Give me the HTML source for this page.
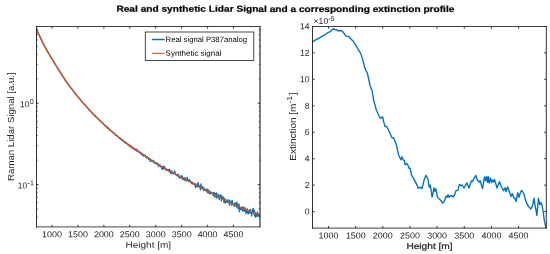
<!DOCTYPE html>
<html lang="en">
<head>
<meta charset="utf-8">
<title>Real and synthetic Lidar Signal and a corresponding extinction profile</title>
<style>
html,body{margin:0;padding:0;background:#ffffff;}
body{width:550px;height:254px;overflow:hidden;font-family:"Liberation Sans",sans-serif;}
svg{display:block;}
#fig{width:550px;height:254px;will-change:transform;background:#ffffff;}
svg text{font-family:"Liberation Sans",sans-serif;fill:#262626;}
.ttl{font-size:8.8px;font-weight:bold;fill:#000000;stroke:#000000;stroke-width:0.2px;}
.tk{font-size:8.6px;}
.sup{font-size:7.1px;}
.lb{font-size:8.6px;}
.lbr{font-size:8.3px;}
.lbb{stroke:#262626;stroke-width:0.22px;}
.lg{font-size:7.7px;fill:#000000;}
</style>
</head>
<body>
<div id="fig">
<svg width="550" height="254" viewBox="0 0 550 254">
<rect x="0" y="0" width="550" height="254" fill="#ffffff"/>
<text class="ttl" transform="translate(285.40,11.90) rotate(0.05)" text-anchor="middle" textLength="338" lengthAdjust="spacingAndGlyphs">Real and synthetic Lidar Signal and a corresponding extinction profile</text>
<g id="ax1">
<clipPath id="c1"><rect x="36.5" y="26.5" width="223.5" height="200.4"/></clipPath>
<g clip-path="url(#c1)" fill="none" stroke-linejoin="round" stroke-linecap="round">
<path d="M36.40,28.94 L36.76,29.62 L37.12,30.50 L37.48,31.37 L37.84,32.11 L38.20,32.99 L38.56,33.81 L38.92,34.48 L39.28,35.50 L39.64,36.26 L40.00,36.79 L40.36,37.60 L40.72,38.42 L41.08,39.11 L41.44,39.86 L41.80,40.51 L42.16,41.40 L42.52,42.09 L42.88,42.82 L43.24,43.38 L43.60,44.34 L43.96,44.92 L44.32,45.56 L44.68,46.43 L45.04,46.94 L45.40,47.50 L45.76,48.24 L46.12,48.75 L46.48,49.67 L46.84,50.20 L47.20,50.81 L47.56,51.59 L47.92,52.00 L48.28,52.80 L48.64,53.22 L49.00,53.95 L49.36,54.52 L49.72,55.34 L50.08,55.98 L50.44,56.41 L50.80,57.11 L51.16,57.63 L51.52,58.29 L51.88,58.78 L52.24,59.29 L52.60,59.88 L52.96,60.64 L53.32,61.38 L53.68,61.81 L54.04,62.33 L54.40,63.10 L54.76,63.55 L55.12,64.12 L55.48,64.71 L55.84,65.26 L56.20,65.82 L56.56,66.31 L56.92,67.04 L57.28,67.57 L57.64,68.25 L58.00,68.70 L58.36,69.14 L58.72,69.86 L59.08,70.58 L59.44,70.98 L59.80,71.51 L60.16,72.05 L60.52,72.63 L60.88,73.26 L61.24,73.76 L61.60,74.54 L61.96,74.96 L62.32,75.55 L62.68,76.22 L63.04,76.79 L63.40,77.21 L63.76,77.80 L64.12,78.39 L64.48,78.86 L64.84,79.27 L65.20,80.01 L65.56,80.56 L65.92,81.05 L66.28,81.47 L66.64,82.05 L67.00,82.53 L67.36,83.06 L67.72,83.70 L68.08,84.22 L68.44,84.64 L68.80,85.12 L69.16,85.62 L69.52,86.04 L69.88,86.52 L70.24,86.94 L70.60,87.46 L70.96,88.14 L71.32,88.48 L71.68,88.83 L72.04,89.28 L72.40,89.71 L72.76,90.28 L73.12,90.74 L73.48,91.03 L73.84,91.67 L74.20,92.02 L74.56,92.67 L74.92,93.00 L75.28,93.61 L75.64,93.85 L76.00,94.31 L76.36,94.82 L76.72,95.35 L77.08,95.75 L77.44,96.01 L77.80,96.60 L78.16,97.02 L78.52,97.42 L78.88,97.83 L79.24,98.53 L79.60,98.73 L79.96,99.11 L80.32,99.71 L80.68,100.09 L81.04,100.49 L81.40,101.02 L81.76,101.41 L82.12,101.82 L82.48,102.31 L82.84,102.65 L83.20,102.95 L83.56,103.40 L83.92,103.79 L84.28,104.30 L84.64,104.54 L85.00,104.85 L85.36,105.51 L85.72,105.72 L86.08,106.04 L86.44,106.76 L86.80,107.01 L87.16,107.58 L87.52,107.83 L87.88,108.14 L88.24,108.52 L88.60,109.01 L88.96,109.44 L89.32,109.75 L89.68,110.21 L90.04,110.41 L90.40,111.03 L90.76,111.13 L91.12,111.76 L91.48,112.28 L91.84,112.72 L92.20,113.20 L92.56,113.04 L92.92,113.80 L93.28,114.25 L93.64,114.58 L94.00,114.62 L94.36,115.22 L94.72,115.84 L95.08,115.61 L95.44,116.33 L95.80,116.81 L96.16,116.83 L96.52,117.43 L96.88,117.48 L97.24,117.88 L97.60,118.24 L97.96,118.79 L98.32,119.08 L98.68,119.64 L99.04,119.62 L99.40,120.13 L99.76,120.70 L100.12,120.97 L100.48,120.92 L100.84,121.68 L101.20,121.78 L101.56,122.31 L101.92,122.64 L102.28,123.18 L102.64,123.28 L103.00,123.17 L103.36,123.62 L103.72,124.43 L104.08,124.54 L104.44,125.20 L104.80,125.33 L105.16,125.42 L105.52,126.18 L105.88,126.06 L106.24,126.08 L106.60,127.42 L106.96,126.76 L107.32,127.72 L107.68,128.13 L108.04,128.25 L108.40,128.10 L108.76,129.12 L109.12,128.80 L109.48,129.14 L109.84,129.72 L110.20,130.35 L110.56,130.54 L110.92,131.00 L111.28,130.97 L111.64,131.36 L112.00,131.40 L112.36,131.94 L112.72,132.52 L113.08,132.57 L113.44,133.10 L113.80,133.10 L114.16,133.40 L114.52,133.90 L114.88,134.13 L115.24,134.67 L115.60,134.85 L115.96,135.64 L116.32,135.32 L116.68,135.62 L117.04,135.65 L117.40,136.29 L117.76,136.80 L118.12,136.63 L118.48,137.15 L118.84,137.70 L119.20,137.70 L119.56,137.86 L119.92,138.66 L120.28,138.65 L120.64,139.04 L121.00,139.60 L121.36,139.88 L121.72,139.63 L122.08,139.85 L122.44,140.42 L122.80,140.55 L123.16,140.18 L123.52,141.64 L123.88,141.44 L124.24,141.99 L124.60,141.54 L124.96,142.76 L125.32,142.31 L125.68,142.77 L126.04,142.53 L126.40,143.29 L126.76,143.53 L127.12,143.82 L127.48,144.34 L127.84,144.45 L128.20,145.09 L128.56,144.75 L128.92,144.79 L129.28,145.46 L129.64,146.00 L130.00,146.52 L130.36,146.60 L130.72,145.73 L131.08,146.92 L131.44,147.65 L131.80,147.29 L132.16,147.28 L132.52,147.90 L132.88,147.78 L133.24,148.55 L133.60,148.49 L133.96,149.39 L134.32,149.22 L134.68,148.89 L135.04,149.76 L135.40,150.16 L135.76,149.68 L136.12,149.99 L136.48,149.31 L136.84,151.12 L137.20,150.62 L137.56,150.09 L137.92,150.50 L138.28,151.51 L138.64,152.25 L139.00,152.05 L139.36,152.58 L139.72,152.00 L140.08,152.11 L140.44,153.51 L140.80,153.54 L141.16,153.50 L141.52,154.45 L141.88,153.48 L142.24,154.00 L142.60,155.03 L142.96,155.72 L143.32,154.95 L143.68,156.12 L144.04,155.09 L144.40,155.85 L144.76,155.81 L145.12,155.24 L145.48,156.54 L145.84,157.18 L146.20,156.79 L146.56,157.08 L146.92,158.19 L147.28,156.86 L147.64,156.95 L148.00,157.70 L148.36,157.62 L148.72,159.41 L149.08,159.02 L149.44,158.55 L149.80,158.94 L150.16,161.36 L150.52,159.43 L150.88,159.58 L151.24,160.50 L151.60,160.96 L151.96,160.94 L152.32,160.45 L152.68,160.52 L153.04,161.91 L153.40,161.73 L153.76,160.91 L154.12,163.03 L154.48,163.00 L154.84,162.55 L155.20,162.78 L155.56,163.35 L155.92,162.95 L156.28,162.72 L156.64,164.11 L157.00,163.10 L157.36,164.62 L157.72,163.54 L158.08,164.72 L158.44,164.92 L158.80,166.52 L159.16,164.68 L159.52,164.64 L159.88,165.41 L160.24,165.27 L160.60,165.88 L160.96,166.84 L161.32,167.31 L161.68,168.19 L162.04,166.59 L162.40,169.37 L162.76,169.08 L163.12,167.60 L163.48,166.17 L163.84,168.09 L164.20,168.41 L164.56,166.73 L164.92,168.80 L165.28,168.78 L165.64,168.50 L166.00,169.83 L166.36,170.33 L166.72,169.31 L167.08,170.08 L167.44,169.54 L167.80,169.62 L168.16,170.52 L168.52,171.08 L168.88,170.36 L169.24,169.15 L169.60,171.71 L169.96,170.03 L170.32,171.69 L170.68,173.30 L171.04,171.94 L171.40,171.10 L171.76,171.04 L172.12,173.54 L172.48,172.68 L172.84,173.37 L173.20,173.90 L173.56,173.22 L173.92,173.17 L174.28,172.77 L174.64,171.01 L175.00,172.62 L175.36,174.13 L175.72,174.22 L176.08,174.95 L176.44,174.64 L176.80,175.10 L177.16,175.88 L177.52,174.48 L177.88,175.24 L178.24,174.16 L178.60,176.83 L178.96,176.11 L179.32,176.74 L179.68,177.96 L180.04,177.70 L180.40,176.77 L180.76,177.79 L181.12,175.77 L181.48,177.82 L181.84,177.71 L182.20,176.12 L182.56,179.30 L182.92,177.41 L183.28,179.02 L183.64,178.07 L184.00,179.72 L184.36,180.24 L184.72,178.19 L185.08,177.64 L185.44,179.30 L185.80,180.52 L186.16,179.41 L186.52,179.34 L186.88,180.70 L187.24,177.38 L187.60,179.83 L187.96,179.23 L188.32,181.25 L188.68,180.30 L189.04,180.07 L189.40,181.09 L189.76,180.03 L190.12,181.84 L190.48,181.28 L190.84,181.81 L191.20,181.61 L191.56,183.65 L191.92,182.67 L192.28,183.58 L192.64,183.72 L193.00,182.42 L193.36,184.21 L193.72,184.14 L194.08,184.29 L194.44,183.64 L194.80,183.79 L195.16,185.42 L195.52,187.29 L195.88,183.87 L196.24,185.70 L196.60,184.80 L196.96,186.39 L197.32,186.16 L197.68,187.12 L198.04,182.57 L198.40,185.46 L198.76,185.16 L199.12,186.45 L199.48,185.87 L199.84,186.16 L200.20,188.02 L200.56,189.76 L200.92,183.94 L201.28,187.34 L201.64,188.33 L202.00,188.12 L202.36,187.86 L202.72,186.74 L203.08,187.46 L203.44,189.84 L203.80,190.50 L204.16,189.40 L204.52,188.35 L204.88,189.78 L205.24,189.53 L205.60,190.77 L205.96,190.39 L206.32,189.58 L206.68,190.87 L207.04,189.20 L207.40,192.12 L207.76,192.82 L208.12,189.75 L208.48,192.16 L208.84,190.38 L209.20,193.45 L209.56,193.41 L209.92,192.01 L210.28,193.93 L210.64,192.10 L211.00,191.99 L211.36,192.28 L211.72,193.08 L212.08,193.00 L212.44,193.88 L212.80,192.95 L213.16,195.15 L213.52,195.72 L213.88,193.68 L214.24,192.49 L214.60,195.86 L214.96,196.67 L215.32,194.92 L215.68,193.42 L216.04,195.94 L216.40,198.03 L216.76,193.06 L217.12,196.83 L217.48,195.80 L217.84,195.16 L218.20,197.43 L218.56,194.84 L218.92,197.49 L219.28,199.27 L219.64,197.68 L220.00,196.22 L220.36,194.98 L220.72,195.94 L221.08,195.23 L221.44,200.89 L221.80,198.13 L222.16,197.04 L222.52,196.81 L222.88,197.36 L223.24,198.73 L223.60,197.37 L223.96,202.39 L224.32,198.61 L224.68,198.73 L225.04,200.71 L225.40,202.79 L225.76,202.77 L226.12,199.94 L226.48,201.36 L226.84,201.37 L227.20,202.19 L227.56,201.91 L227.92,200.05 L228.28,199.69 L228.64,202.32 L229.00,200.16 L229.36,204.72 L229.72,202.62 L230.08,200.95 L230.44,202.34 L230.80,202.19 L231.16,203.02 L231.52,205.09 L231.88,201.04 L232.24,200.46 L232.60,204.54 L232.96,203.79 L233.32,204.57 L233.68,205.24 L234.04,204.28 L234.40,206.22 L234.76,203.31 L235.12,205.22 L235.48,203.74 L235.84,203.35 L236.20,206.71 L236.56,206.79 L236.92,202.30 L237.28,203.97 L237.64,206.76 L238.00,208.37 L238.36,205.27 L238.72,206.33 L239.08,204.15 L239.44,211.74 L239.80,208.03 L240.16,208.99 L240.52,208.69 L240.88,209.37 L241.24,208.90 L241.60,207.22 L241.96,209.46 L242.32,208.32 L242.68,210.85 L243.04,207.02 L243.40,207.54 L243.76,210.05 L244.12,211.43 L244.48,209.33 L244.84,207.76 L245.20,209.09 L245.56,208.47 L245.92,213.43 L246.28,211.57 L246.64,212.46 L247.00,210.66 L247.36,209.06 L247.72,212.73 L248.08,213.87 L248.44,211.82 L248.80,210.71 L249.16,213.14 L249.52,210.28 L249.88,212.78 L250.24,209.85 L250.60,209.44 L250.96,212.81 L251.32,212.48 L251.68,215.94 L252.04,211.45 L252.40,212.24 L252.76,209.90 L253.12,208.47 L253.48,208.79 L253.84,213.76 L254.20,210.35 L254.56,215.48 L254.92,216.28 L255.28,212.70 L255.64,217.09 L256.00,214.10 L256.36,216.22 L256.72,213.38 L257.08,216.15 L257.44,212.06 L257.80,215.69 L258.16,213.41 L258.52,214.29 L258.88,216.14 L259.24,215.25 L259.60,214.83 L259.96,216.79 L260.32,217.10" stroke="#0072BD" stroke-width="1.4"/>
<path d="M36.40,28.80 L36.76,29.65 L37.12,30.50 L37.48,31.34 L37.84,32.17 L38.20,32.99 L38.56,33.81 L38.92,34.62 L39.28,35.42 L39.64,36.21 L40.00,36.84 L40.36,37.61 L40.72,38.38 L41.08,39.14 L41.44,39.88 L41.80,40.62 L42.16,41.36 L42.52,42.08 L42.88,42.80 L43.24,43.51 L43.60,44.21 L43.96,44.90 L44.32,45.59 L44.68,46.27 L45.04,46.95 L45.40,47.62 L45.76,48.28 L46.12,48.93 L46.48,49.58 L46.84,50.23 L47.20,50.87 L47.56,51.50 L47.92,52.13 L48.28,52.76 L48.64,53.38 L49.00,54.00 L49.36,54.61 L49.72,55.23 L50.08,55.83 L50.44,56.44 L50.80,57.04 L51.16,57.64 L51.52,58.24 L51.88,58.84 L52.24,59.43 L52.60,60.02 L52.96,60.61 L53.32,61.20 L53.68,61.78 L54.04,62.37 L54.40,62.95 L54.76,63.53 L55.12,64.11 L55.48,64.69 L55.84,65.27 L56.20,65.85 L56.56,66.42 L56.92,67.00 L57.28,67.58 L57.64,68.15 L58.00,68.72 L58.36,69.30 L58.72,69.87 L59.08,70.44 L59.44,71.01 L59.80,71.58 L60.16,72.15 L60.52,72.72 L60.88,73.28 L61.24,73.85 L61.60,74.42 L61.96,74.98 L62.32,75.54 L62.68,76.11 L63.04,76.67 L63.40,77.22 L63.76,77.78 L64.12,78.33 L64.48,78.87 L64.84,79.42 L65.20,79.95 L65.56,80.49 L65.92,81.02 L66.28,81.54 L66.64,82.06 L67.00,82.58 L67.36,83.09 L67.72,83.59 L68.08,84.09 L68.44,84.58 L68.80,85.07 L69.16,85.56 L69.52,86.04 L69.88,86.52 L70.24,86.99 L70.60,87.46 L70.96,87.93 L71.32,88.40 L71.68,88.86 L72.04,89.32 L72.40,89.78 L72.76,90.24 L73.12,90.70 L73.48,91.16 L73.84,91.61 L74.20,92.07 L74.56,92.52 L74.92,92.98 L75.28,93.43 L75.64,93.88 L76.00,94.34 L76.36,94.79 L76.72,95.23 L77.08,95.68 L77.44,96.13 L77.80,96.57 L78.16,97.01 L78.52,97.45 L78.88,97.89 L79.24,98.33 L79.60,98.76 L79.96,99.20 L80.32,99.63 L80.68,100.06 L81.04,100.49 L81.40,100.91 L81.76,101.34 L82.12,101.76 L82.48,102.18 L82.84,102.60 L83.20,103.01 L83.56,103.43 L83.92,103.84 L84.28,104.25 L84.64,104.66 L85.00,105.07 L85.36,105.48 L85.72,105.88 L86.08,106.28 L86.44,106.69 L86.80,107.08 L87.16,107.48 L87.52,107.88 L87.88,108.27 L88.24,108.67 L88.60,109.06 L88.96,109.45 L89.32,109.84 L89.68,110.22 L90.04,110.61 L90.40,110.99 L90.76,111.37 L91.12,111.75 L91.48,112.13 L91.84,112.50 L92.20,112.88 L92.56,113.25 L92.92,113.62 L93.28,113.99 L93.64,114.36 L94.00,114.73 L94.36,115.09 L94.72,115.46 L95.08,115.82 L95.44,116.18 L95.80,116.54 L96.16,116.90 L96.52,117.26 L96.88,117.61 L97.24,117.97 L97.60,118.32 L97.96,118.67 L98.32,119.02 L98.68,119.37 L99.04,119.72 L99.40,120.07 L99.76,120.42 L100.12,120.76 L100.48,121.10 L100.84,121.45 L101.20,121.79 L101.56,122.13 L101.92,122.47 L102.28,122.80 L102.64,123.14 L103.00,123.48 L103.36,123.81 L103.72,124.14 L104.08,124.48 L104.44,124.81 L104.80,125.14 L105.16,125.46 L105.52,125.79 L105.88,126.12 L106.24,126.44 L106.60,126.77 L106.96,127.09 L107.32,127.41 L107.68,127.73 L108.04,128.06 L108.40,128.38 L108.76,128.69 L109.12,129.01 L109.48,129.33 L109.84,129.65 L110.20,129.96 L110.56,130.28 L110.92,130.59 L111.28,130.90 L111.64,131.21 L112.00,131.52 L112.36,131.83 L112.72,132.14 L113.08,132.45 L113.44,132.75 L113.80,133.06 L114.16,133.36 L114.52,133.66 L114.88,133.97 L115.24,134.26 L115.60,134.56 L115.96,134.86 L116.32,135.16 L116.68,135.45 L117.04,135.74 L117.40,136.04 L117.76,136.33 L118.12,136.62 L118.48,136.91 L118.84,137.20 L119.20,137.48 L119.56,137.77 L119.92,138.05 L120.28,138.34 L120.64,138.62 L121.00,138.90 L121.36,139.19 L121.72,139.47 L122.08,139.75 L122.44,140.03 L122.80,140.30 L123.16,140.58 L123.52,140.86 L123.88,141.13 L124.24,141.41 L124.60,141.68 L124.96,141.95 L125.32,142.22 L125.68,142.49 L126.04,142.76 L126.40,143.03 L126.76,143.30 L127.12,143.56 L127.48,143.83 L127.84,144.09 L128.20,144.35 L128.56,144.62 L128.92,144.88 L129.28,145.13 L129.64,145.39 L130.00,145.65 L130.36,145.90 L130.72,146.16 L131.08,146.41 L131.44,146.66 L131.80,146.91 L132.16,147.16 L132.52,147.41 L132.88,147.66 L133.24,147.90 L133.60,148.15 L133.96,148.39 L134.32,148.64 L134.68,148.88 L135.04,149.12 L135.40,149.36 L135.76,149.61 L136.12,149.85 L136.48,150.09 L136.84,150.33 L137.20,150.56 L137.56,150.80 L137.92,151.04 L138.28,151.28 L138.64,151.52 L139.00,151.76 L139.36,151.99 L139.72,152.23 L140.08,152.47 L140.44,152.71 L140.80,152.95 L141.16,153.18 L141.52,153.42 L141.88,153.66 L142.24,153.90 L142.60,154.14 L142.96,154.38 L143.32,154.62 L143.68,154.86 L144.04,155.11 L144.40,155.35 L144.76,155.59 L145.12,155.84 L145.48,156.08 L145.84,156.33 L146.20,156.57 L146.56,156.82 L146.92,157.06 L147.28,157.31 L147.64,157.56 L148.00,157.81 L148.36,158.06 L148.72,158.30 L149.08,158.55 L149.44,158.80 L149.80,159.05 L150.16,159.30 L150.52,159.55 L150.88,159.80 L151.24,160.04 L151.60,160.29 L151.96,160.54 L152.32,160.79 L152.68,161.03 L153.04,161.28 L153.40,161.52 L153.76,161.77 L154.12,162.01 L154.48,162.25 L154.84,162.49 L155.20,162.73 L155.56,162.97 L155.92,163.21 L156.28,163.44 L156.64,163.68 L157.00,163.91 L157.36,164.14 L157.72,164.37 L158.08,164.60 L158.44,164.82 L158.80,165.05 L159.16,165.27 L159.52,165.49 L159.88,165.71 L160.24,165.93 L160.60,166.14 L160.96,166.36 L161.32,166.57 L161.68,166.78 L162.04,166.99 L162.40,167.20 L162.76,167.40 L163.12,167.61 L163.48,167.81 L163.84,168.01 L164.20,168.21 L164.56,168.41 L164.92,168.61 L165.28,168.81 L165.64,169.01 L166.00,169.20 L166.36,169.39 L166.72,169.59 L167.08,169.78 L167.44,169.97 L167.80,170.16 L168.16,170.36 L168.52,170.55 L168.88,170.74 L169.24,170.93 L169.60,171.11 L169.96,171.30 L170.32,171.49 L170.68,171.68 L171.04,171.87 L171.40,172.06 L171.76,172.25 L172.12,172.44 L172.48,172.63 L172.84,172.81 L173.20,173.00 L173.56,173.19 L173.92,173.38 L174.28,173.57 L174.64,173.76 L175.00,173.95 L175.36,174.14 L175.72,174.33 L176.08,174.52 L176.44,174.71 L176.80,174.90 L177.16,175.09 L177.52,175.28 L177.88,175.47 L178.24,175.66 L178.60,175.85 L178.96,176.03 L179.32,176.22 L179.68,176.41 L180.04,176.60 L180.40,176.79 L180.76,176.98 L181.12,177.17 L181.48,177.35 L181.84,177.54 L182.20,177.73 L182.56,177.92 L182.92,178.10 L183.28,178.29 L183.64,178.48 L184.00,178.67 L184.36,178.85 L184.72,179.04 L185.08,179.23 L185.44,179.41 L185.80,179.60 L186.16,179.79 L186.52,179.98 L186.88,180.16 L187.24,180.35 L187.60,180.54 L187.96,180.72 L188.32,180.91 L188.68,181.10 L189.04,181.28 L189.40,181.47 L189.76,181.66 L190.12,181.85 L190.48,182.03 L190.84,182.22 L191.20,182.41 L191.56,182.60 L191.92,182.78 L192.28,182.97 L192.64,183.16 L193.00,183.35 L193.36,183.54 L193.72,183.73 L194.08,183.92 L194.44,184.10 L194.80,184.29 L195.16,184.48 L195.52,184.67 L195.88,184.86 L196.24,185.05 L196.60,185.24 L196.96,185.43 L197.32,185.62 L197.68,185.81 L198.04,186.01 L198.40,186.20 L198.76,186.39 L199.12,186.58 L199.48,186.77 L199.84,186.96 L200.20,187.15 L200.56,187.35 L200.92,187.54 L201.28,187.73 L201.64,187.92 L202.00,188.12 L202.36,188.31 L202.72,188.50 L203.08,188.69 L203.44,188.88 L203.80,189.08 L204.16,189.27 L204.52,189.46 L204.88,189.65 L205.24,189.85 L205.60,190.04 L205.96,190.23 L206.32,190.42 L206.68,190.61 L207.04,190.81 L207.40,191.00 L207.76,191.19 L208.12,191.38 L208.48,191.57 L208.84,191.76 L209.20,191.95 L209.56,192.14 L209.92,192.33 L210.28,192.52 L210.64,192.71 L211.00,192.90 L211.36,193.09 L211.72,193.28 L212.08,193.47 L212.44,193.66 L212.80,193.85 L213.16,194.04 L213.52,194.22 L213.88,194.41 L214.24,194.60 L214.60,194.79 L214.96,194.97 L215.32,195.16 L215.68,195.35 L216.04,195.54 L216.40,195.72 L216.76,195.91 L217.12,196.10 L217.48,196.28 L217.84,196.47 L218.20,196.66 L218.56,196.85 L218.92,197.03 L219.28,197.22 L219.64,197.41 L220.00,197.59 L220.36,197.78 L220.72,197.97 L221.08,198.16 L221.44,198.34 L221.80,198.53 L222.16,198.72 L222.52,198.90 L222.88,199.09 L223.24,199.28 L223.60,199.46 L223.96,199.65 L224.32,199.83 L224.68,200.02 L225.04,200.20 L225.40,200.38 L225.76,200.57 L226.12,200.75 L226.48,200.93 L226.84,201.12 L227.20,201.30 L227.56,201.48 L227.92,201.66 L228.28,201.84 L228.64,202.02 L229.00,202.20 L229.36,202.37 L229.72,202.55 L230.08,202.73 L230.44,202.90 L230.80,203.08 L231.16,203.25 L231.52,203.42 L231.88,203.60 L232.24,203.77 L232.60,203.94 L232.96,204.11 L233.32,204.27 L233.68,204.44 L234.04,204.61 L234.40,204.77 L234.76,204.94 L235.12,205.10 L235.48,205.26 L235.84,205.42 L236.20,205.58 L236.56,205.74 L236.92,205.90 L237.28,206.06 L237.64,206.21 L238.00,206.37 L238.36,206.52 L238.72,206.67 L239.08,206.83 L239.44,206.98 L239.80,207.13 L240.16,207.28 L240.52,207.43 L240.88,207.58 L241.24,207.73 L241.60,207.87 L241.96,208.02 L242.32,208.17 L242.68,208.31 L243.04,208.46 L243.40,208.60 L243.76,208.75 L244.12,208.89 L244.48,209.04 L244.84,209.18 L245.20,209.33 L245.56,209.47 L245.92,209.61 L246.28,209.76 L246.64,209.90 L247.00,210.04 L247.36,210.19 L247.72,210.33 L248.08,210.47 L248.44,210.62 L248.80,210.76 L249.16,210.90 L249.52,211.05 L249.88,211.19 L250.24,211.33 L250.60,211.48 L250.96,211.62 L251.32,211.76 L251.68,211.90 L252.04,212.05 L252.40,212.19 L252.76,212.33 L253.12,212.47 L253.48,212.61 L253.84,212.76 L254.20,212.90 L254.56,213.04 L254.92,213.18 L255.28,213.32 L255.64,213.46 L256.00,213.60 L256.36,213.74 L256.72,213.88 L257.08,214.02 L257.44,214.16 L257.80,214.30 L258.16,214.44 L258.52,214.58 L258.88,214.72 L259.24,214.86 L259.60,214.99 L259.96,215.13 L260.32,215.27" stroke="#D95319" stroke-width="1.35"/>
</g>
<path d="M52.00,226.9 v-2.1 M52.00,26.5 v2.1 M77.93,226.9 v-2.1 M77.93,26.5 v2.1 M103.86,226.9 v-2.1 M103.86,26.5 v2.1 M129.79,226.9 v-2.1 M129.79,26.5 v2.1 M155.72,226.9 v-2.1 M155.72,26.5 v2.1 M181.65,226.9 v-2.1 M181.65,26.5 v2.1 M207.58,226.9 v-2.1 M207.58,26.5 v2.1 M233.51,226.9 v-2.1 M233.51,26.5 v2.1 M36.5,103.20 h2.1 M260.0,103.20 h-2.1 M36.5,184.60 h2.1 M260.0,184.60 h-2.1 M36.5,78.70 h1.1 M260.0,78.70 h-1.1 M36.5,64.36 h1.1 M260.0,64.36 h-1.1 M36.5,54.19 h1.1 M260.0,54.19 h-1.1 M36.5,46.30 h1.1 M260.0,46.30 h-1.1 M36.5,39.86 h1.1 M260.0,39.86 h-1.1 M36.5,34.41 h1.1 M260.0,34.41 h-1.1 M36.5,29.69 h1.1 M260.0,29.69 h-1.1 M36.5,160.10 h1.1 M260.0,160.10 h-1.1 M36.5,145.76 h1.1 M260.0,145.76 h-1.1 M36.5,135.59 h1.1 M260.0,135.59 h-1.1 M36.5,127.70 h1.1 M260.0,127.70 h-1.1 M36.5,121.26 h1.1 M260.0,121.26 h-1.1 M36.5,115.81 h1.1 M260.0,115.81 h-1.1 M36.5,111.09 h1.1 M260.0,111.09 h-1.1 M36.5,106.92 h1.1 M260.0,106.92 h-1.1 M36.5,216.99 h1.1 M260.0,216.99 h-1.1 M36.5,209.10 h1.1 M260.0,209.10 h-1.1 M36.5,202.66 h1.1 M260.0,202.66 h-1.1 M36.5,197.21 h1.1 M260.0,197.21 h-1.1 M36.5,192.49 h1.1 M260.0,192.49 h-1.1 M36.5,188.32 h1.1 M260.0,188.32 h-1.1" stroke="#262626" stroke-width="0.95" fill="none"/>
<path d="M36.5,26.05 V227.35" fill="none" stroke="#262626" stroke-width="0.95"/>
<path d="M260.0,26.05 V227.35" fill="none" stroke="#262626" stroke-width="1.15"/>
<path d="M36.05,26.5 H260.45" fill="none" stroke="#262626" stroke-width="0.88"/>
<path d="M36.05,226.9 H260.45" fill="none" stroke="#262626" stroke-width="0.85"/>
<text class="tk" transform="translate(52.00,237.20) rotate(0.05)" text-anchor="middle" textLength="19.9" lengthAdjust="spacingAndGlyphs">1000</text>
<text class="tk" transform="translate(77.93,237.20) rotate(0.05)" text-anchor="middle" textLength="19.9" lengthAdjust="spacingAndGlyphs">1500</text>
<text class="tk" transform="translate(103.86,237.20) rotate(0.05)" text-anchor="middle" textLength="19.9" lengthAdjust="spacingAndGlyphs">2000</text>
<text class="tk" transform="translate(129.79,237.20) rotate(0.05)" text-anchor="middle" textLength="19.9" lengthAdjust="spacingAndGlyphs">2500</text>
<text class="tk" transform="translate(155.72,237.20) rotate(0.05)" text-anchor="middle" textLength="19.9" lengthAdjust="spacingAndGlyphs">3000</text>
<text class="tk" transform="translate(181.65,237.20) rotate(0.05)" text-anchor="middle" textLength="19.9" lengthAdjust="spacingAndGlyphs">3500</text>
<text class="tk" transform="translate(207.58,237.20) rotate(0.05)" text-anchor="middle" textLength="19.9" lengthAdjust="spacingAndGlyphs">4000</text>
<text class="tk" transform="translate(233.51,237.20) rotate(0.05)" text-anchor="middle" textLength="19.9" lengthAdjust="spacingAndGlyphs">4500</text>
<text class="tk" transform="translate(29.50,107.20) rotate(0.05)" text-anchor="end">10</text>
<text class="sup" transform="translate(29.70,103.90) rotate(0.05)">0</text>
<text class="tk" transform="translate(27.40,188.60) rotate(0.05)" text-anchor="end">10</text>
<text class="sup" transform="translate(27.60,185.30) rotate(0.05)">-1</text>
<text class="lb" transform="translate(148.30,247.70) rotate(0.05)" text-anchor="middle" textLength="45.5" lengthAdjust="spacingAndGlyphs">Height [m]</text>
<text class="lbr" transform="translate(13.5,126.6) rotate(-90)" text-anchor="middle" textLength="108.6" lengthAdjust="spacingAndGlyphs">Raman Lidar Signal [a.u.]</text>
<rect x="145.3" y="32.0" width="108.5" height="28.4" fill="#ffffff" stroke="#262626" stroke-width="0.85"/>
<path d="M151.9,39.5 H164.7" stroke="#0072BD" stroke-width="1.5"/>
<path d="M151.9,53.35 H164.7" stroke="#D95319" stroke-width="1.05"/>
<text class="lg" transform="translate(165.60,42.00) rotate(0.05)" textLength="81.5" lengthAdjust="spacingAndGlyphs">Real signal P387analog</text>
<text class="lg" transform="translate(165.60,55.80) rotate(0.05)" textLength="55.8" lengthAdjust="spacingAndGlyphs">Synthetic signal</text>
</g>
<g id="ax2">
<clipPath id="c2"><rect x="312.5" y="25.5" width="234.79999999999995" height="203.6"/></clipPath>
<g clip-path="url(#c2)" fill="none" stroke-linejoin="round" stroke-linecap="round">
<path d="M312.8,41.7 L317.0,39.1 L319.5,37.9 L322.1,36.3 L324.2,35.2 L326.0,34.0 L328.0,32.5 L330.0,31.8 L331.5,30.2 L333.5,28.6 L335.0,29.9 L336.5,29.6 L339.0,31.2 L341.5,30.5 L343.0,32.0 L346.0,36.1 L348.8,36.5 L351.0,39.0 L353.5,41.6 L355.5,44.6 L357.4,48.3 L360.6,53.1 L362.6,59.1 L364.6,67.2 L366.0,70.6 L367.2,72.7 L368.2,77.0 L370.0,85.2 L372.1,91.1 L373.7,100.1 L376.1,109.2 L378.1,114.0 L380.1,118.0 L382.7,117.0 L383.5,121.1 L385.1,126.5 L386.7,126.5 L389.1,131.1 L392.1,138.1 L393.5,137.7 L396.1,144.1 L397.5,150.2 L399.0,156.0 L400.9,159.8 L402.0,156.6 L403.0,159.6 L404.4,160.6 L405.1,164.8 L406.5,163.5 L408.0,165.2 L409.0,168.4 L410.0,168.0 L411.6,175.0 L414.5,180.1 L417.1,185.1 L418.1,188.2 L420.1,187.1 L422.1,188.6 L424.1,180.1 L426.0,175.3 L428.0,179.0 L429.1,187.2 L430.3,185.0 L432.1,197.1 L434.0,188.0 L435.0,191.2 L435.9,188.8 L437.3,196.6 L438.8,198.4 L440.8,200.4 L442.8,203.2 L444.6,200.8 L446.0,196.3 L447.0,197.2 L448.0,194.8 L449.2,197.4 L450.0,196.0 L451.6,195.6 L453.0,197.0 L454.4,195.3 L456.0,190.7 L457.8,190.2 L459.5,184.4 L461.0,185.6 L462.2,185.0 L464.0,188.0 L466.8,182.8 L469.0,188.0 L471.5,180.8 L472.4,181.6 L475.8,175.4 L477.5,180.5 L479.2,182.0 L480.1,180.6 L482.5,188.6 L484.5,177.0 L485.5,180.6 L486.5,176.4 L487.5,182.4 L488.3,176.5 L489.2,183.0 L490.5,178.0 L491.5,182.4 L492.8,180.0 L493.5,182.0 L494.6,179.6 L497.0,188.0 L499.5,181.6 L501.0,186.0 L503.5,190.8 L505.0,187.7 L506.0,191.8 L507.7,186.8 L510.0,193.6 L511.2,196.5 L512.4,193.7 L514.0,198.0 L514.8,197.9 L516.0,201.5 L517.7,192.8 L519.0,197.3 L520.5,192.3 L521.8,190.4 L524.0,194.0 L525.4,199.8 L527.5,205.0 L529.5,207.7 L531.0,208.9 L532.6,205.5 L534.0,198.3 L535.1,205.4 L536.9,215.4 L538.5,198.3 L539.8,204.6 L540.9,202.6 L542.0,205.0 L543.1,211.0 L544.2,219.4 L545.8,227.4" stroke="#0072BD" stroke-width="1.38"/>
</g>
<path d="M328.50,228.1 v-2.1 M328.50,26.5 v2.1 M355.65,228.1 v-2.1 M355.65,26.5 v2.1 M382.80,228.1 v-2.1 M382.80,26.5 v2.1 M409.95,228.1 v-2.1 M409.95,26.5 v2.1 M437.10,228.1 v-2.1 M437.10,26.5 v2.1 M464.25,228.1 v-2.1 M464.25,26.5 v2.1 M491.40,228.1 v-2.1 M491.40,26.5 v2.1 M518.55,228.1 v-2.1 M518.55,26.5 v2.1 M312.5,211.60 h2.1 M546.3,211.60 h-2.1 M312.5,185.14 h2.1 M546.3,185.14 h-2.1 M312.5,158.68 h2.1 M546.3,158.68 h-2.1 M312.5,132.22 h2.1 M546.3,132.22 h-2.1 M312.5,105.76 h2.1 M546.3,105.76 h-2.1 M312.5,79.30 h2.1 M546.3,79.30 h-2.1 M312.5,52.84 h2.1 M546.3,52.84 h-2.1 M312.5,26.50 h2.1 M546.3,26.50 h-2.1" stroke="#262626" stroke-width="0.95" fill="none"/>
<path d="M312.5,26.05 V228.54999999999998" fill="none" stroke="#262626" stroke-width="0.95"/>
<path d="M546.3,26.05 V228.54999999999998" fill="none" stroke="#262626" stroke-width="0.95"/>
<path d="M312.05,26.5 H546.75" fill="none" stroke="#262626" stroke-width="0.88"/>
<path d="M312.05,228.1 H546.75" fill="none" stroke="#262626" stroke-width="0.9"/>
<text class="tk" transform="translate(328.50,238.60) rotate(0.05)" text-anchor="middle" textLength="19.9" lengthAdjust="spacingAndGlyphs">1000</text>
<text class="tk" transform="translate(355.65,238.60) rotate(0.05)" text-anchor="middle" textLength="19.9" lengthAdjust="spacingAndGlyphs">1500</text>
<text class="tk" transform="translate(382.80,238.60) rotate(0.05)" text-anchor="middle" textLength="19.9" lengthAdjust="spacingAndGlyphs">2000</text>
<text class="tk" transform="translate(409.95,238.60) rotate(0.05)" text-anchor="middle" textLength="19.9" lengthAdjust="spacingAndGlyphs">2500</text>
<text class="tk" transform="translate(437.10,238.60) rotate(0.05)" text-anchor="middle" textLength="19.9" lengthAdjust="spacingAndGlyphs">3000</text>
<text class="tk" transform="translate(464.25,238.60) rotate(0.05)" text-anchor="middle" textLength="19.9" lengthAdjust="spacingAndGlyphs">3500</text>
<text class="tk" transform="translate(491.40,238.60) rotate(0.05)" text-anchor="middle" textLength="19.9" lengthAdjust="spacingAndGlyphs">4000</text>
<text class="tk" transform="translate(518.55,238.60) rotate(0.05)" text-anchor="middle" textLength="19.9" lengthAdjust="spacingAndGlyphs">4500</text>
<text class="tk" transform="translate(309.60,214.50) rotate(0.05)" text-anchor="end">0</text>
<text class="tk" transform="translate(309.60,188.04) rotate(0.05)" text-anchor="end">2</text>
<text class="tk" transform="translate(309.60,161.58) rotate(0.05)" text-anchor="end">4</text>
<text class="tk" transform="translate(309.60,135.12) rotate(0.05)" text-anchor="end">6</text>
<text class="tk" transform="translate(309.60,108.66) rotate(0.05)" text-anchor="end">8</text>
<text class="tk" transform="translate(309.60,82.20) rotate(0.05)" text-anchor="end">10</text>
<text class="tk" transform="translate(309.60,55.74) rotate(0.05)" text-anchor="end">12</text>
<text class="tk" transform="translate(309.60,29.28) rotate(0.05)" text-anchor="end">14</text>
<text class="tk" transform="translate(313.60,24.00) rotate(0.05)">×10</text>
<text class="sup" transform="translate(328.20,21.00) rotate(0.05)">-5</text>
<text class="lb lbb" transform="translate(429.50,248.90) rotate(0.05)" text-anchor="middle" textLength="46.2" lengthAdjust="spacingAndGlyphs">Height [m]</text>
<text class="lbr" transform="translate(296.0,126.6) rotate(-90)" text-anchor="middle" textLength="68.2" lengthAdjust="spacingAndGlyphs">Extinction [m<tspan class="sup" dy="-3.9">-1</tspan><tspan dy="3.9" dx="0.6">]</tspan></text>
</g>
</svg>
</div>
</body>
</html>
